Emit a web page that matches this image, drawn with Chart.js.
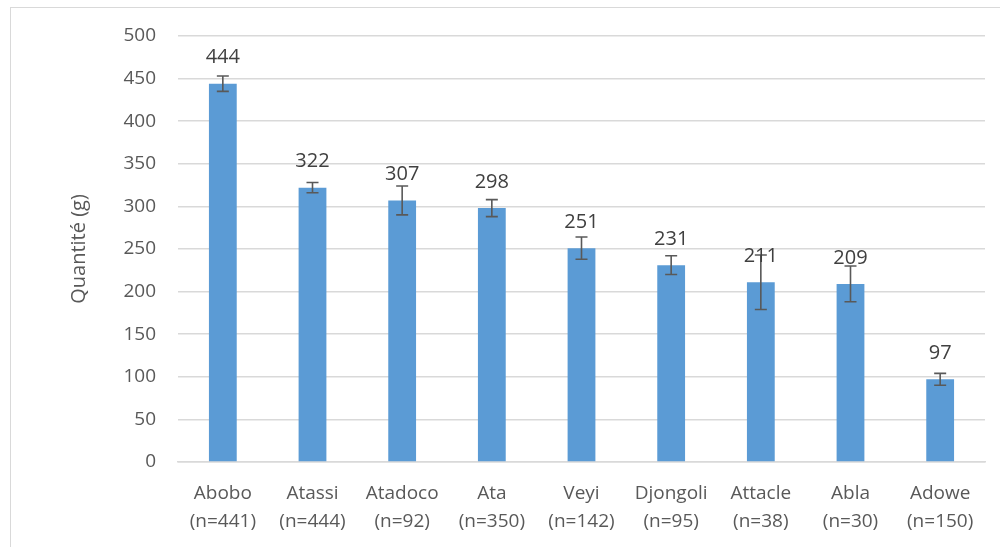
<!DOCTYPE html>
<html>
<head>
<meta charset="utf-8">
<script src="https://cdn.jsdelivr.net/npm/chart.js@4/dist/chart.umd.min.js"></script>
<style>
  html, body { margin: 0; padding: 0; background: #fff; }
  #wrap { width: 1000px; height: 547px; position: relative; }
</style>
</head>
<body>
<div id="wrap"><canvas id="chart" width="1000" height="547"></canvas></div>
<script>
// Data
const varieties = ['Abobo', 'Atassi', 'Atadoco', 'Ata', 'Veyi', 'Djongoli', 'Attacle', 'Abla', 'Adowe'];
const sampleSizes = ['(n=441)', '(n=444)', '(n=92)', '(n=350)', '(n=142)', '(n=95)', '(n=38)', '(n=30)', '(n=150)'];
const quantities = [444, 322, 307, 298, 251, 231, 211, 209, 97];
const errors = [9, 6, 17, 10, 13, 11, 32, 21, 7];

const FONT = '"Open Sans", "DejaVu Sans", sans-serif';
const TEXT = '#595959';

// error bars + value labels on top of each bar
const barExtras = {
  id: 'barExtras',
  afterDatasetsDraw(chart) {
    const { ctx, scales } = chart;
    const meta = chart.getDatasetMeta(0);
    ctx.save();
    meta.data.forEach((bar, i) => {
      const yHi = scales.y.getPixelForValue(quantities[i] + errors[i]);
      const yLo = scales.y.getPixelForValue(quantities[i] - errors[i]);
      ctx.strokeStyle = '#595959';
      ctx.lineWidth = 1.6;
      ctx.beginPath();
      ctx.moveTo(bar.x, yHi); ctx.lineTo(bar.x, yLo);
      ctx.moveTo(bar.x - 6, yHi); ctx.lineTo(bar.x + 6, yHi);
      ctx.moveTo(bar.x - 6, yLo); ctx.lineTo(bar.x + 6, yLo);
      ctx.stroke();

      ctx.fillStyle = '#404040';
      ctx.font = '20px ' + FONT;
      ctx.textAlign = 'center';
      ctx.textBaseline = 'middle';
      ctx.fillText(String(quantities[i]), bar.x, bar.y - 26);
    });
    ctx.restore();
  },
  // light frame around the whole chart
  beforeDraw(chart) {
    const ctx = chart.ctx;
    ctx.save();
    ctx.strokeStyle = '#d9d9d9';
    ctx.lineWidth = 1;
    ctx.strokeRect(10.5, 7.5, 1000, 600);
    ctx.restore();
  }
};

new Chart(document.getElementById('chart'), {
  type: 'bar',
  data: {
    labels: varieties.map((v, i) => [v, sampleSizes[i]]),
    datasets: [{
      data: quantities,
      backgroundColor: '#5b9bd5',
      borderWidth: 0,
      barPercentage: 0.31,
      categoryPercentage: 1
    }]
  },
  options: {
    responsive: false,
    animation: false,
    layout: { padding: { left: 0, right: 15, top: 36, bottom: 0 } },
    plugins: {
      legend: { display: false },
      tooltip: { enabled: false }
    },
    scales: {
      x: {
        grid: { display: false },
        border: { display: true, color: '#d9d9d9', width: 1.5 },
        ticks: {
          color: TEXT,
          font: { family: FONT, size: 19, lineHeight: 1.47 },
          padding: 10,
          maxRotation: 0,
          autoSkip: false
        },
        afterFit(scale) { scale.height = 85; }
      },
      y: {
        min: 0,
        max: 500,
        ticks: {
          stepSize: 50,
          color: TEXT,
          font: { family: FONT, size: 19 },
          padding: 22
        },
        grid: { color: '#d9d9d9', lineWidth: 1.5, drawTicks: false },
        border: { display: false },
        title: {
          display: true,
          text: 'Quantité (g)',
          color: TEXT,
          font: { family: FONT, size: 20 },
          padding: { top: 67, bottom: 0 }
        },
        afterFit(scale) { scale.width = 178; }
      }
    }
  },
  plugins: [barExtras]
});
</script>
</body>
</html>
